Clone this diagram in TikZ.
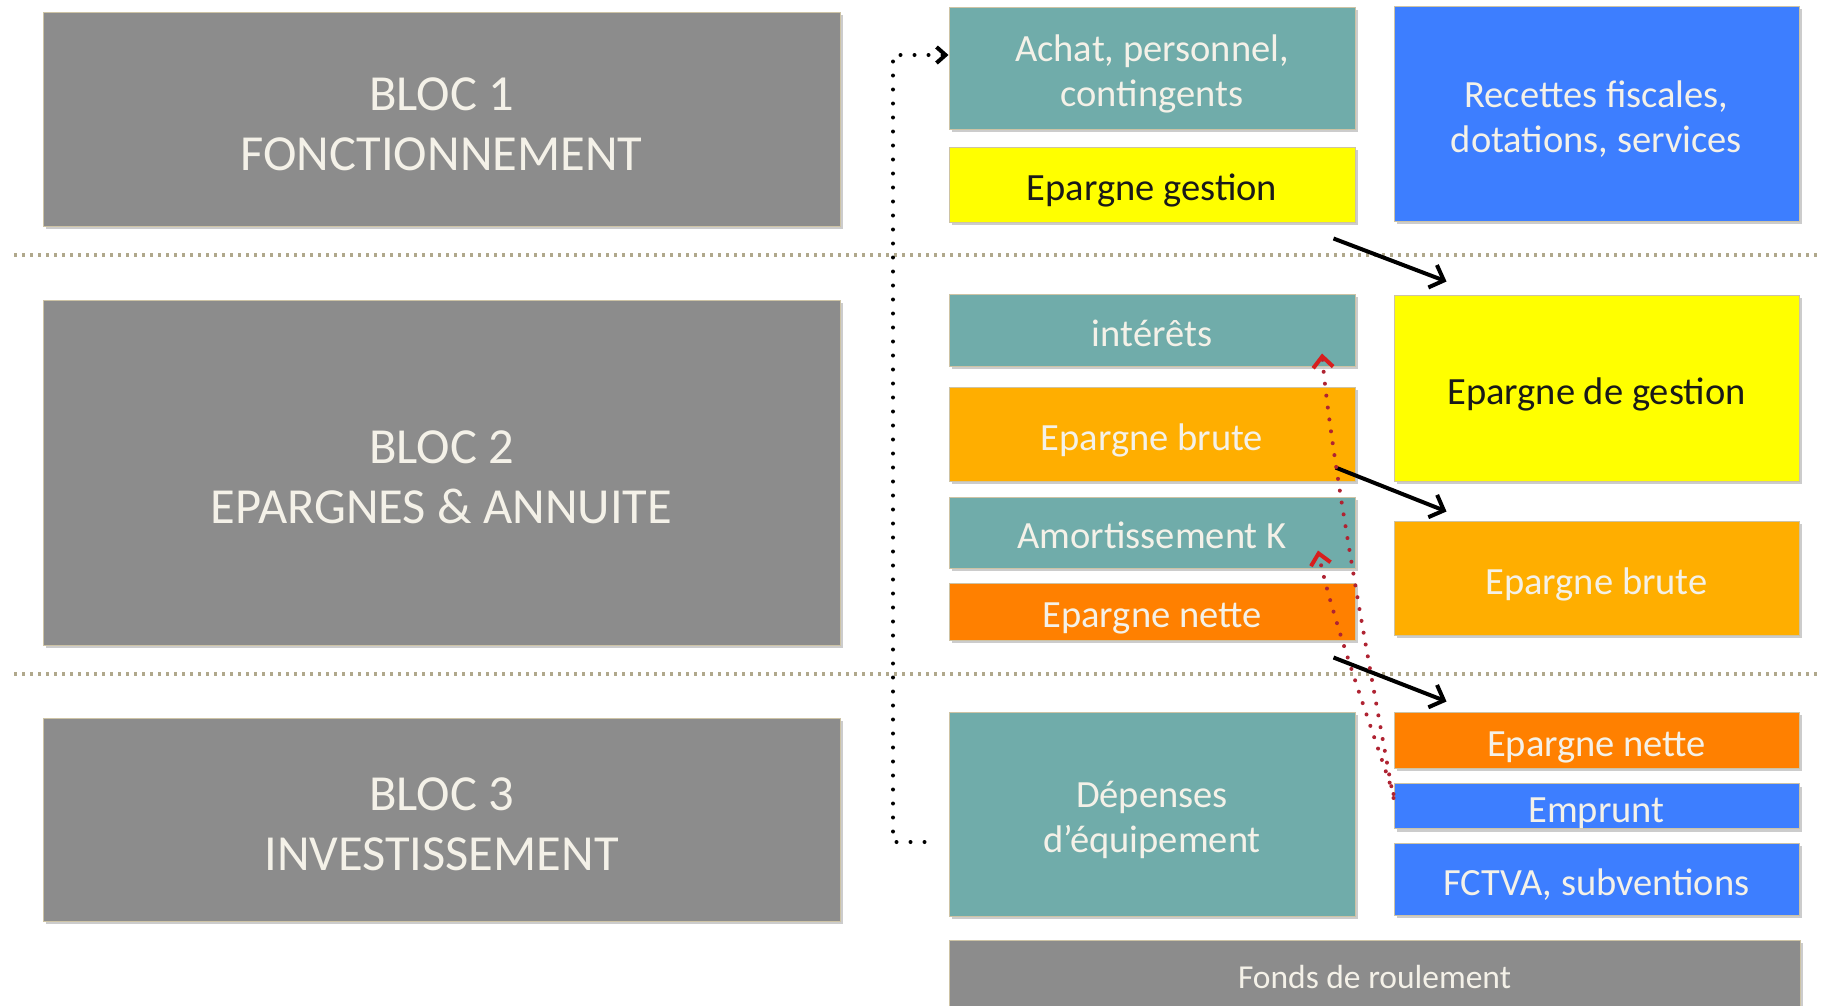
\documentclass[tikz,border=0pt]{standalone}
\usepackage{fontspec}
\setmainfont{Carlito}
\usetikzlibrary{arrows.meta,shadows}
\definecolor{gbox}{RGB}{140,140,140}
\definecolor{tealb}{RGB}{112,172,170}
\definecolor{blueb}{RGB}{61,126,255}
\definecolor{amber}{RGB}{255,174,0}
\definecolor{dorange}{RGB}{255,128,0}
\definecolor{yel}{RGB}{255,255,0}
\definecolor{txtl}{RGB}{244,241,232}
\definecolor{sepc}{RGB}{176,168,140}
\definecolor{dred}{RGB}{175,35,50}
\definecolor{rtip}{RGB}{215,30,30}
\definecolor{boxedge}{RGB}{205,195,165}
\newcommand\boxtxt[2][-7pt]{\raisebox{#1}[\height][\depth]{\begin{tabular}{@{}c@{}}#2\end{tabular}}}
\begin{document}
\begin{tikzpicture}[x=1pt,y=-1pt,
  box/.style={rectangle, draw=boxedge, line width=1pt, text=txtl, align=center,
    inner sep=0pt, font=\fontsize{38.5}{45}\selectfont,
    drop shadow={shadow xshift=3pt,shadow yshift=-3pt,opacity=0.4}},
  bloc/.style={box, fill=gbox, font=\fontsize{50.5}{60}\selectfont, minimum width=797pt},
  colA/.style={box, minimum width=406pt},
  colB/.style={box, minimum width=405pt},
  sepline/.style={draw=sepc, line width=3.5pt, dash pattern=on 3pt off 5pt},
  dotarrow/.style={line width=4pt, line cap=round, dash pattern=on 0pt off 14pt},
  blackarrow/.style={line width=4pt, -{Straight Barb[length=12pt,width=24pt]}},
  redarrow/.style={draw=dred, line width=4pt, line cap=round, dash pattern=on 0pt off 12pt,
    -{Straight Barb[length=11pt,width=20pt,color=rtip]}}
]
\useasboundingbox (0,0) rectangle (1821,1005);
\fill[white] (0,0) rectangle (1821,1005);

% separators
\draw[sepline] (14,255) -- (1821,255);
\draw[sepline] (14,674) -- (1821,674);

% left blocks
\node[bloc, minimum height=214pt] (b1) at (441.5,119) {\boxtxt[-9pt]{BLOC 1\\FONCTIONNEMENT}};
\node[bloc, minimum height=345pt] (b2) at (441.5,472.5) {\boxtxt[-9pt]{BLOC 2\\EPARGNES \& ANNUITE}};
\node[bloc, minimum height=203pt] (b3) at (441.5,819.5) {\boxtxt[-9pt]{BLOC 3\\INVESTISSEMENT}};

% column A
\node[colA, fill=tealb, minimum height=122pt] (achat) at (1152,68) {\boxtxt{Achat, personnel,\\contingents}};
\node[colA, fill=yel, text=black!90, minimum height=75pt] (epg) at (1152,184.5) {\boxtxt{Epargne gestion}};
\node[colA, fill=tealb, minimum height=72pt] (int) at (1152,330) {\boxtxt{intérêts}};
\node[colA, fill=amber, minimum height=94pt] (ebr) at (1152,434) {\boxtxt{Epargne brute}};
\node[colA, fill=tealb, minimum height=71pt] (amk) at (1152,532.5) {\boxtxt{Amortissement K}};
\node[colA, fill=dorange, minimum height=57pt] (ent) at (1152,611.5) {\boxtxt{Epargne nette}};
\node[colA, fill=tealb, minimum height=204pt] (dep) at (1152,814) {\boxtxt{Dépenses\\d’équipement}};
\node[box, fill=gbox, minimum width=851pt, minimum height=75pt, font=\fontsize{33.5}{40}\selectfont] (fdr) at (1374.5,977.5) {\boxtxt[-3pt]{Fonds de roulement}};

% column B
\node[colB, fill=blueb, minimum height=215pt] (rec) at (1596.5,113.5) {\boxtxt{Recettes fiscales,\\dotations, services}};
\node[colB, fill=yel, text=black!90, minimum height=186pt] (edg) at (1596.5,388) {\boxtxt{Epargne de gestion}};
\node[colB, fill=amber, minimum height=114pt] (ebr2) at (1596.5,578) {\boxtxt{Epargne brute}};
\node[colB, fill=dorange, minimum height=56pt] (ent2) at (1596.5,740) {\boxtxt{Epargne nette}};
\node[colB, fill=blueb, minimum height=42pt] (emp) at (1596.5,806) {\boxtxt{Emprunt}};
\node[colB, fill=blueb, minimum height=72pt] (fct) at (1596.5,879) {\boxtxt{FCTVA, subventions}};

% dotted connector from Depenses to Achat
\coordinate (ds) at ([shift={(-24pt,-28pt)}]dep.west);
\draw[dotarrow, -{Straight Barb[length=9pt,width=16pt]}] (ds) -- (893,842) -- (893,55) -- ([yshift=13pt]achat.west);

% black arrows
\coordinate (a1s) at ([shift={(-22pt,-16pt)}]epg.south east);
\coordinate (a1e) at ([shift={(53pt,13pt)}]edg.north west);
\draw[blackarrow] (a1s) -- (a1e);
\coordinate (a2s) at ([shift={(-20pt,14pt)}]ebr.south east);
\coordinate (a2e) at ([shift={(53pt,9pt)}]ebr2.north west);
\draw[blackarrow] (a2s) -- (a2e);
\coordinate (a3s) at ([shift={(-22pt,-17pt)}]ent.south east);
\coordinate (a3e) at ([shift={(53pt,10pt)}]ent2.north west);
\draw[blackarrow] (a3s) -- (a3e);

% red dotted arrows
\coordinate (r1e) at ([shift={(170pt,13pt)}]int.south);
\coordinate (r2e) at ([shift={(166pt,18pt)}]amk.south);
\draw[redarrow] ([yshift=8pt]emp.west) .. controls (1368,660) and (1330,450) .. (r1e);
\draw[redarrow] ([yshift=12pt]emp.west) .. controls (1365,710) and (1330,610) .. (r2e);
\end{tikzpicture}
\end{document}
